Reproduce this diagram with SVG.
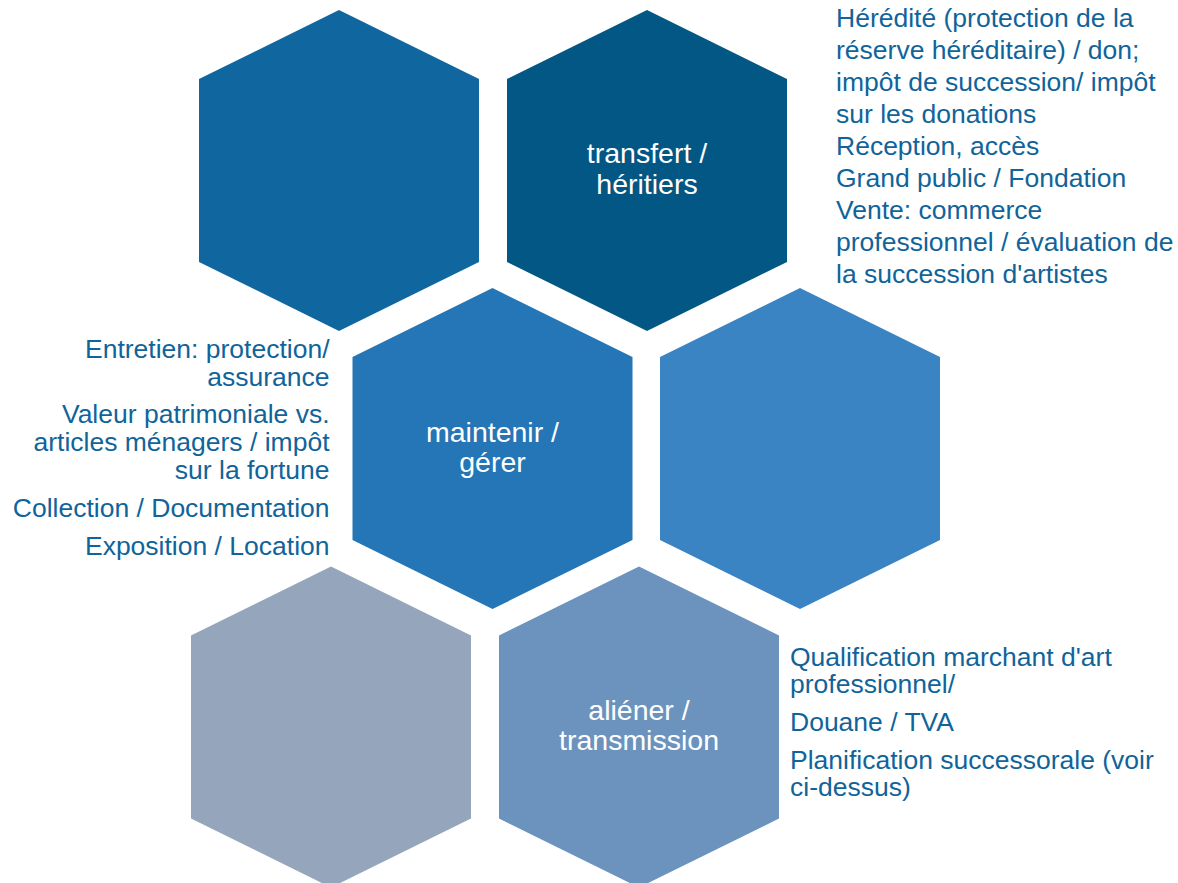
<svg xmlns="http://www.w3.org/2000/svg" xmlns:xlink="http://www.w3.org/1999/xlink" width="1178" height="883" viewBox="0 0 1178 883">
<style>
.lbl{font-family:"Liberation Sans",Arial,sans-serif;font-size:28.5px;fill:#ffffff;text-anchor:middle}
.txt{font-family:"Liberation Sans",Arial,sans-serif;font-size:26.5px;fill:#10649a}
.end{text-anchor:end}
</style>
<defs>
<polygon id="hex" points="0,-160.5 140,-91.5 140,91.5 0,160.5 -140,91.5 -140,-91.5"/>
</defs>
<rect width="1178" height="883" fill="#ffffff"/>
<g id="hex1"><use xlink:href="#hex" href="#hex" transform="translate(339,170.5)" fill="#1067a0"/></g>
<g id="hex2"><use xlink:href="#hex" href="#hex" transform="translate(647,170.5)" fill="#035784"/>
<text class="lbl" x="647" y="163">transfert /</text>
<text class="lbl" x="647" y="194">héritiers</text></g>
<g id="hex3"><use xlink:href="#hex" href="#hex" transform="translate(492.5,448.5)" fill="#2476b6"/>
<text class="lbl" x="492.5" y="441.5">maintenir /</text>
<text class="lbl" x="492.5" y="472">gérer</text></g>
<g id="hex4"><use xlink:href="#hex" href="#hex" transform="translate(800,448.5)" fill="#3b84c4"/></g>
<g id="hex5"><use xlink:href="#hex" href="#hex" transform="translate(331,727)" fill="#95a6bc"/></g>
<g id="hex6"><use xlink:href="#hex" href="#hex" transform="translate(639,727)" fill="#6c93be"/>
<text class="lbl" x="639" y="719.5">aliéner /</text>
<text class="lbl" x="639" y="750">transmission</text></g>
<g id="text-transfert">
<text class="txt" x="836" y="27">Hérédité (protection de la</text>
<text class="txt" x="836" y="59">réserve héréditaire) / don;</text>
<text class="txt" x="836" y="91">impôt de succession/ impôt</text>
<text class="txt" x="836" y="123">sur les donations</text>
<text class="txt" x="836" y="155">Réception, accès</text>
<text class="txt" x="836" y="187">Grand public / Fondation</text>
<text class="txt" x="836" y="219">Vente: commerce</text>
<text class="txt" x="836" y="251">professionnel / évaluation de</text>
<text class="txt" x="836" y="283">la succession d'artistes</text>
</g>
<g id="text-maintenir">
<text class="txt end" x="329.5" y="357.5">Entretien: protection/</text>
<text class="txt end" x="329.5" y="385.5">assurance</text>
<text class="txt end" x="329.5" y="423">Valeur patrimoniale vs.</text>
<text class="txt end" x="329.5" y="451">articles ménagers / impôt</text>
<text class="txt end" x="329.5" y="478.5">sur la fortune</text>
<text class="txt end" x="329.5" y="517">Collection / Documentation</text>
<text class="txt end" x="329.5" y="555">Exposition / Location</text>
</g>
<g id="text-aliener">
<text class="txt" x="790" y="665.5">Qualification marchant d'art</text>
<text class="txt" x="790" y="693">professionnel/</text>
<text class="txt" x="790" y="731">Douane / TVA</text>
<text class="txt" x="790" y="768.5">Planification successorale (voir</text>
<text class="txt" x="790" y="796">ci-dessus)</text>
</g>
</svg>
